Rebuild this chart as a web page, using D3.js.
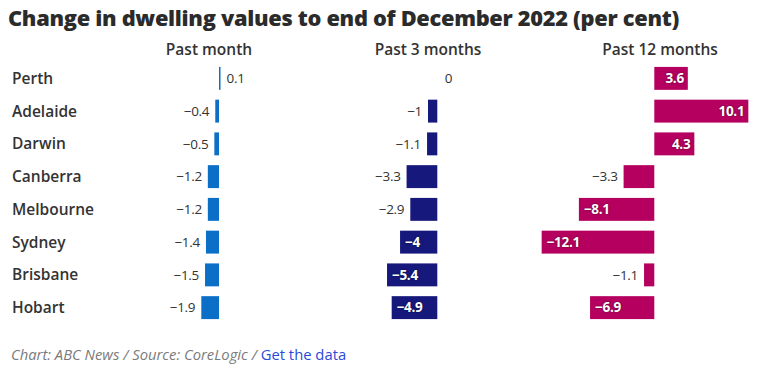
<!DOCTYPE html>
<html><head><meta charset="utf-8">
<script src="https://cdn.jsdelivr.net/npm/d3@7"></script>
<style>
body{margin:0;background:#fff;}
text{font-family:"Open Sans",sans-serif;}
</style></head>
<body><svg id="c" width="778" height="369"></svg>
<script>
const cities = ["Perth","Adelaide","Darwin","Canberra","Melbourne","Sydney","Brisbane","Hobart"];
const pastMonth = [0.1,-0.4,-0.5,-1.2,-1.2,-1.4,-1.5,-1.9];
const past3Months = [0,-1,-1.1,-3.3,-2.9,-4,-5.4,-4.9];
const past12Months = [3.6,10.1,4.3,-3.3,-8.1,-12.1,-1.1,-6.9];
const panelTitles = ["Past month","Past 3 months","Past 12 months"];
const colors = ["#0b6fc7","#16187c","#b5005f"];

const svg = d3.select("#c");
svg.append("text").attr("x",8).attr("y",26).text("Change in dwelling values to end of December 2022 (per cent)")
  .attr("font-size",21.8).attr("font-weight",800).attr("fill","#2b2b2b").attr("letter-spacing",-0.3);

const y = d3.scaleBand().domain(cities).range([62,324]).paddingInner(0.3).paddingOuter(0.15);

svg.append("g").selectAll("text").data(cities).join("text")
  .attr("x",12).attr("y",d=>y(d)+y.bandwidth()/2).attr("dy","0.35em")
  .attr("font-size",15.5).attr("font-weight",600).attr("fill","#333").text(d=>d);

const s = 9.31;
const zeros = [219,437.3,654.3];
const series = [pastMonth,past3Months,past12Months];
const headerX = [209,428,660];
const thr = 3.45;

series.forEach((vals,i)=>{
  const z = zeros[i];
  const x = d3.scaleLinear().domain([-12.1,10.1]).range([z-12.1*s, z+10.1*s]);
  const g = svg.append("g");
  g.append("text").attr("x",headerX[i]).attr("y",55).attr("text-anchor","middle")
    .attr("font-size",15.5).attr("font-weight",600).attr("fill","#333").text(panelTitles[i]);
  const data = cities.map((c,j)=>({c,v:vals[j]}));
  g.selectAll("rect").data(data.filter(d=>d.v!==0)).join("rect")
    .attr("x",d=>x(Math.min(0,d.v))).attr("width",d=>Math.max(1.5,Math.abs(x(d.v)-x(0))))
    .attr("y",d=>y(d.c)).attr("height",y.bandwidth()).attr("fill",colors[i]);
  const fmt = v => (v<0?"\u2212":"")+Math.abs(v);
  g.selectAll("text.v").data(data).join("text").attr("class","v")
    .attr("y",d=>y(d.c)+y.bandwidth()/2).attr("dy","0.35em")
    .attr("font-size",13.5).attr("letter-spacing",-0.3)
    .each(function(d){
      const t = d3.select(this);
      const inside = Math.abs(d.v)>thr;
      let xx, anchor;
      if(inside){
        if(d.v<0){xx=x(d.v)+5;anchor="start";} else {xx=x(d.v)-4;anchor="end";}
        t.attr("fill","#fff").attr("font-weight",700).style("text-shadow","0 0 2px rgba(0,0,0,0.6)");
      } else {
        if(d.v<0){xx=x(d.v)-6;anchor="end";} else {xx=Math.max(x(d.v),x(0)+1.5)+6;anchor="start";}
        t.attr("fill","#333").attr("font-weight",500);
      }
      t.attr("x",xx).attr("text-anchor",anchor).text(fmt(d.v));
    });
});

const f = svg.append("text").attr("x",11).attr("y",360).attr("font-size",14.8);
f.append("tspan").attr("font-style","italic").attr("fill","#7a7a7a").text("Chart: ABC News / Source: CoreLogic / ");
f.append("tspan").attr("fill","#2a4bd7").text("Get the data");
</script></body></html>
